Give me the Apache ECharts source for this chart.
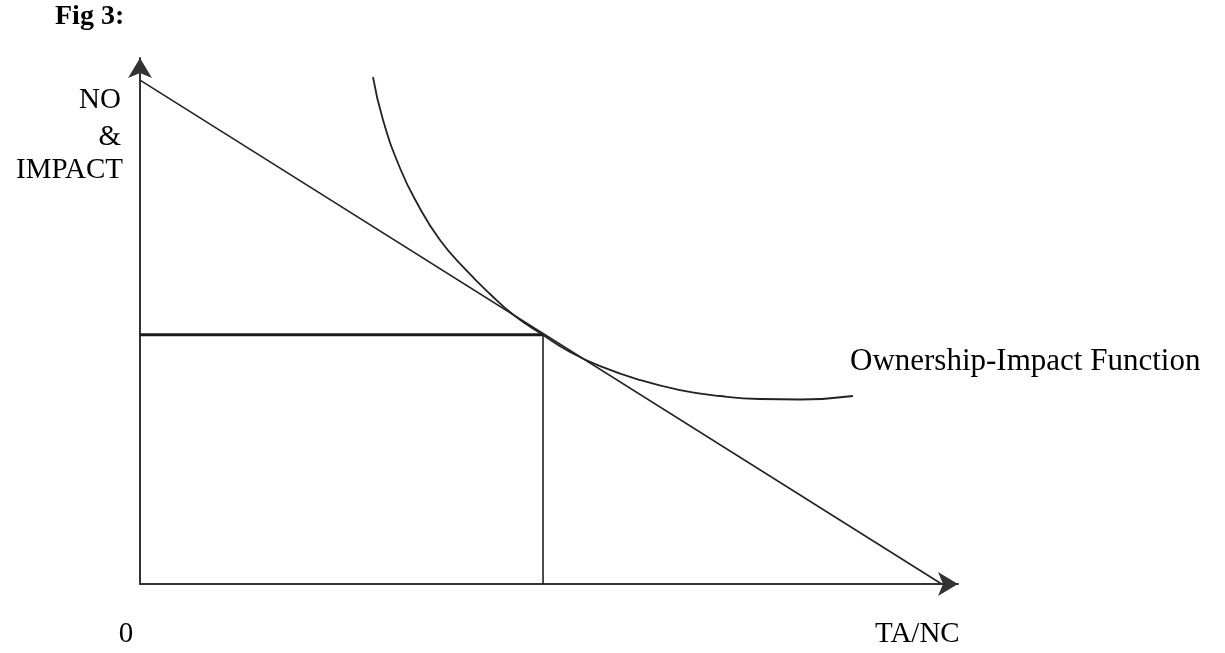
<!DOCTYPE html>
<html>
<head>
<meta charset="utf-8">
<script src="https://cdn.jsdelivr.net/npm/echarts@6/dist/echarts.min.js"></script>
<style>
html,body{margin:0;padding:0;background:#fff;}
#chart{width:1225px;height:653px;}
</style>
</head>
<body>
<div id="chart"></div>
<script>
// Budget (straight) line
var budgetLine = [[0, 95.8], [98.0, 0]];
// Ownership-Impact Function curve
var curveX = [28.48, 29.71, 31.78, 33.86, 36.67, 39.73, 42.79, 45.84, 49.27, 52.57, 56.23, 61.12, 66.01, 70.90, 75.79, 80.68, 87.16];
var curveY = [96.39, 88.21, 79.09, 72.43, 65.40, 59.89, 55.13, 50.95, 47.34, 44.11, 41.44, 38.78, 36.88, 35.74, 35.17, 35.08, 35.74];
// Tangency point
var tangentX = 49.27;
var tangentY = 47.4;
var yTitle = ['NO', '&', 'IMPACT'];
var xTitle = 'TA/NC';
var originLabel = '0';
var curveLabel = 'Ownership-Impact Function';
var figTitle = 'Fig 3:';

var curveData = curveX.map(function (x, i) { return [x, curveY[i]]; });

var chart = echarts.init(document.getElementById('chart'));
var serif = '"Liberation Serif", "Times New Roman", serif';
chart.setOption({
  animation: false,
  backgroundColor: '#ffffff',
  grid: { left: 140, right: 267, top: 58, bottom: 69 },
  xAxis: {
    type: 'value', min: 0, max: 100,
    axisLine: { show: true, lineStyle: { color: '#333', width: 2 }, symbol: ['none', 'arrow'], symbolSize: [18, 20] },
    axisTick: { show: false }, axisLabel: { show: false }, splitLine: { show: false }
  },
  yAxis: {
    type: 'value', min: 0, max: 100,
    axisLine: { show: true, lineStyle: { color: '#333', width: 2 }, symbol: ['none', 'arrow'], symbolSize: [18, 20] },
    axisTick: { show: false }, axisLabel: { show: false }, splitLine: { show: false }
  },
  series: [
    {
      type: 'line', data: budgetLine, symbol: 'none',
      lineStyle: { color: '#222', width: 1.6 }, z: 3
    },
    {
      type: 'line', data: curveData, symbol: 'none', smooth: 0.5,
      lineStyle: { color: '#222', width: 1.8 }, z: 3
    },
    {
      type: 'line', data: [[0, tangentY], [tangentX, tangentY]], symbol: 'none',
      lineStyle: { color: '#1a1a1a', width: 3 }, z: 2
    },
    {
      type: 'line', data: [[tangentX, tangentY], [tangentX, 0]], symbol: 'none',
      lineStyle: { color: '#222', width: 1.6 }, z: 2
    }
  ],
  graphic: [
    { type: 'text', x: 55, y: 17, style: { text: figTitle, font: 'bold 28px ' + serif, fill: '#000', align: 'left', verticalAlign: 'middle' } },
    { type: 'text', x: 121, y: 100, style: { text: yTitle[0], font: '29px ' + serif, fill: '#000', align: 'right', verticalAlign: 'middle' } },
    { type: 'text', x: 121, y: 137, style: { text: yTitle[1], font: '29px ' + serif, fill: '#000', align: 'right', verticalAlign: 'middle' } },
    { type: 'text', x: 123, y: 170, style: { text: yTitle[2], font: '29px ' + serif, fill: '#000', align: 'right', verticalAlign: 'middle' } },
    { type: 'text', x: 126, y: 634, style: { text: originLabel, font: '29px ' + serif, fill: '#000', align: 'center', verticalAlign: 'middle' } },
    { type: 'text', x: 875, y: 634, style: { text: xTitle, font: '29px ' + serif, fill: '#000', align: 'left', verticalAlign: 'middle' } },
    { type: 'text', x: 850, y: 362, style: { text: curveLabel, font: '31px ' + serif, fill: '#000', align: 'left', verticalAlign: 'middle' } }
  ]
});
</script>
</body>
</html>
